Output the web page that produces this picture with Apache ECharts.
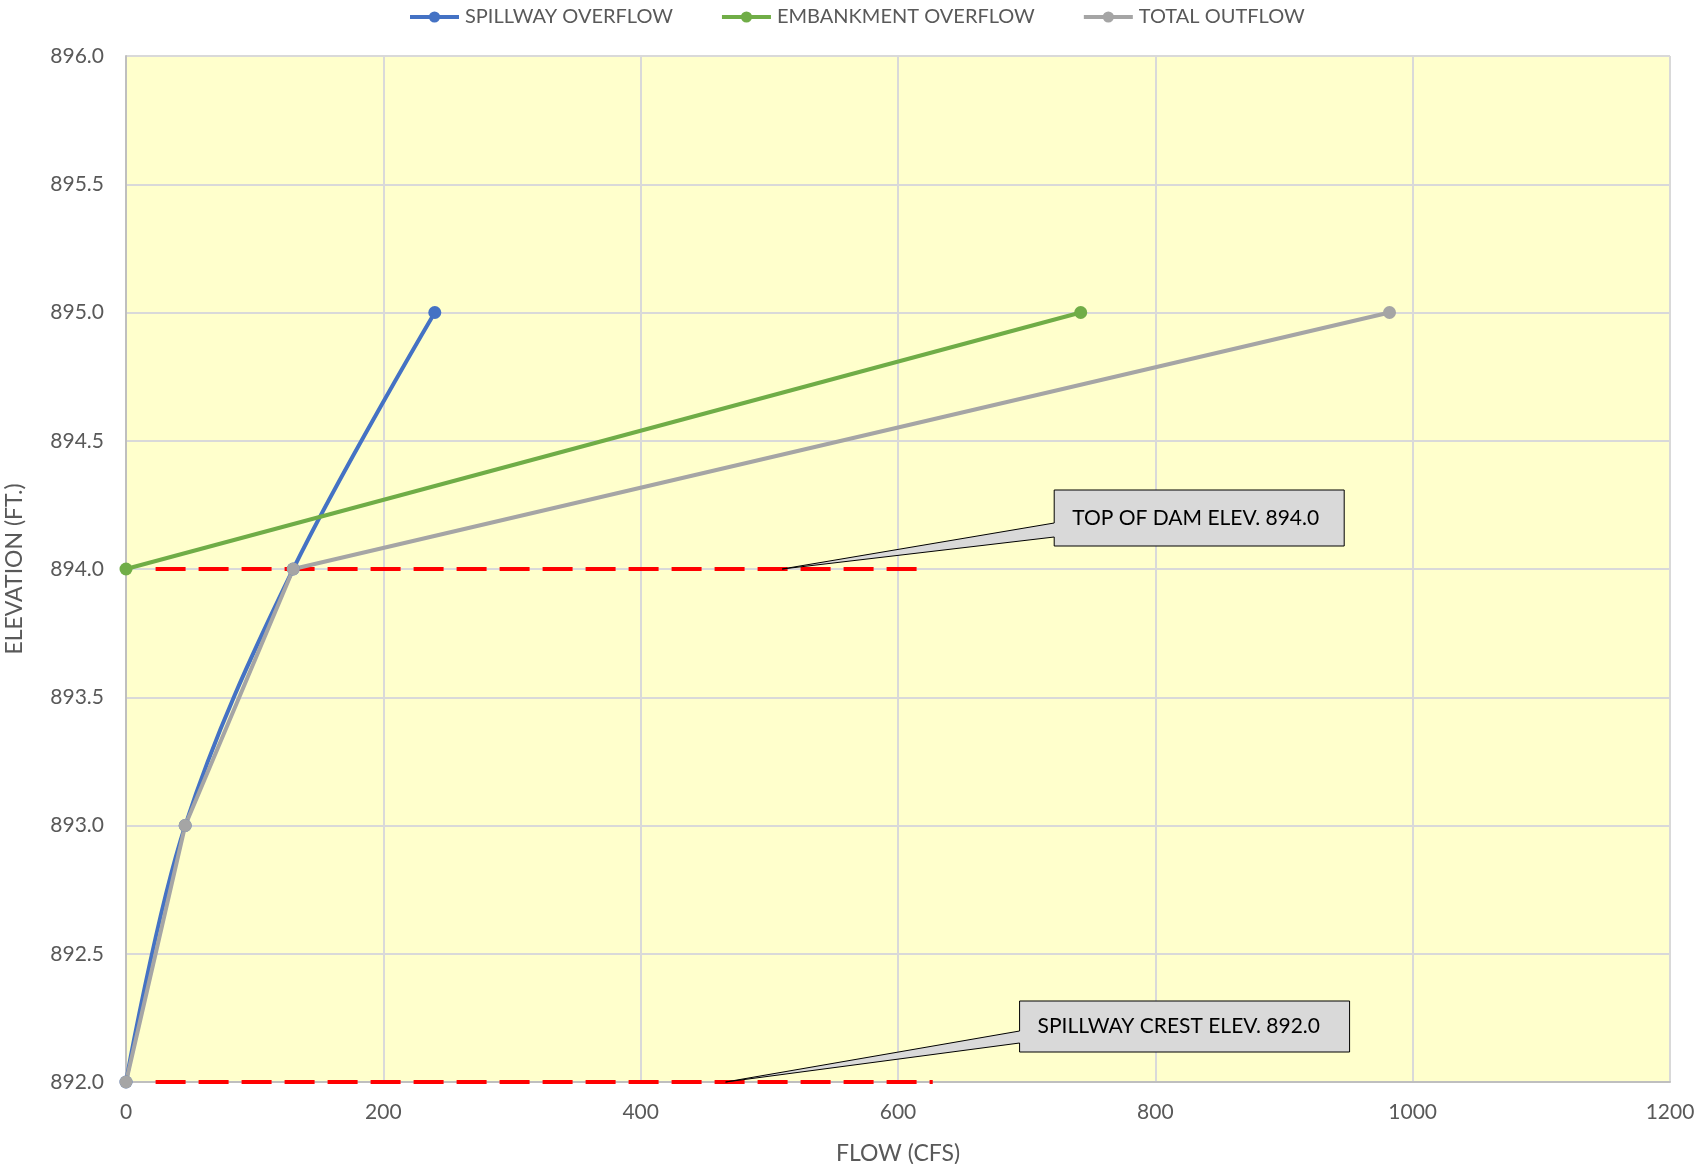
<!DOCTYPE html>
<html>
<head>
<meta charset="utf-8">
<title>Spillway and Embankment Rating Curve</title>
<script src="https://cdn.jsdelivr.net/npm/echarts@6/dist/echarts.min.js"></script>
<style>
  html, body { margin: 0; padding: 0; background: #ffffff; }
  #chart { width: 1694px; height: 1164px; }
</style>
</head>
<body>
<div id="chart"></div>
<script>
// Rating curve: flow (cfs) against water-surface elevation (ft)
const seriesNames = ['SPILLWAY OVERFLOW', 'EMBANKMENT OVERFLOW', 'TOTAL OUTFLOW'];

// [flow, elevation] pairs
const spillwayOverflow = [[0, 892.0], [46, 893.0], [130, 894.0], [240, 895.0]];
const embankmentOverflow = [[0, 894.0], [742, 895.0]];
const totalOutflow = [[0, 892.0], [46, 893.0], [130, 894.0], [982, 895.0]];

// Reference elevations drawn as dashed red lines
const topOfDamLine = [[23, 894.0], [624, 894.0]];
const spillwayCrestLine = [[23, 892.0], [627, 892.0]];

// Callout labels and the point each one points at
const calloutTexts = ['TOP OF DAM ELEV. 894.0', 'SPILLWAY CREST ELEV. 892.0'];
const calloutTargets = [[510, 894.0], [466, 892.0]];

const xTicks = { min: 0, max: 1200, interval: 200 };
const yTicks = { min: 892, max: 896, interval: 0.5 };

const FONT = 'Lato, "Liberation Sans", sans-serif';
const TEXT_GREY = '#595959';

const chart = echarts.init(document.getElementById('chart'), null, { renderer: 'canvas' });

function lineSeries(name, data, color, smooth) {
  return {
    name: name,
    type: 'line',
    data: data,
    smooth: smooth,
    symbol: 'circle',
    symbolSize: 13,
    showSymbol: true,
    lineStyle: { color: color, width: 4 },
    itemStyle: { color: color },
    emphasis: { disabled: true },
    z: 3
  };
}

function dashedRef(data) {
  return {
    type: 'line',
    data: data,
    symbol: 'none',
    silent: true,
    lineStyle: { color: '#FF0000', width: 4, type: [30, 13] },
    z: 2
  };
}

chart.setOption({
  animation: false,
  backgroundColor: '#ffffff',
  textStyle: { fontFamily: FONT },
  legend: {
    data: seriesNames,
    top: 2,
    left: 403,
    itemWidth: 49,
    itemHeight: 14,
    itemGap: 47,
    itemStyle: { borderWidth: 0 },
    lineStyle: { width: 4 },
    textStyle: { color: TEXT_GREY, fontSize: 20, fontFamily: FONT, padding: [0, 0, 0, 1] }
  },
  grid: {
    left: 126, right: 24, top: 56, bottom: 82,
    outerBoundsMode: 'none',
    show: true, backgroundColor: '#FFFFCC', borderWidth: 0
  },
  xAxis: {
    type: 'value',
    min: xTicks.min, max: xTicks.max, interval: xTicks.interval,
    name: 'FLOW (CFS)',
    nameLocation: 'middle',
    nameGap: 60,
    nameTextStyle: { color: TEXT_GREY, fontSize: 23, fontFamily: FONT },
    axisLine: { show: true, lineStyle: { color: '#bfbfbf', width: 2 } },
    axisTick: { show: false },
    axisLabel: {
      color: TEXT_GREY, fontSize: 21, margin: 20, fontFamily: FONT,
      formatter: function (v) { return String(v); }
    },
    splitLine: { show: true, lineStyle: { color: '#d9d9d9', width: 2 } }
  },
  yAxis: {
    type: 'value',
    min: yTicks.min, max: yTicks.max, interval: yTicks.interval,
    name: 'ELEVATION (FT.)',
    nameLocation: 'middle',
    nameGap: 100,
    nameRotate: 90,
    nameTextStyle: { color: TEXT_GREY, fontSize: 23, fontFamily: FONT },
    axisLine: { show: true, lineStyle: { color: '#bfbfbf', width: 2 } },
    axisTick: { show: false },
    axisLabel: {
      color: TEXT_GREY, fontSize: 21, margin: 22, fontFamily: FONT,
      formatter: function (v) { return v.toFixed(1); }
    },
    splitLine: { show: true, lineStyle: { color: '#d9d9d9', width: 2 } }
  },
  series: [
    dashedRef(topOfDamLine),
    dashedRef(spillwayCrestLine),
    lineSeries(seriesNames[0], spillwayOverflow, '#4472C4', 0.35),
    lineSeries(seriesNames[1], embankmentOverflow, '#70AD47', false),
    lineSeries(seriesNames[2], totalOutflow, '#A5A5A5', false)
  ]
});

// Callout boxes: offsets (px) of the box and pointer base from the target point
const calloutLayout = [
  { box: [272, -79, 562, -23], base: [-46, -32] },
  { box: [294, -81, 624, -30], base: [-51, -39] }
];

const graphics = [];
calloutTexts.forEach(function (txt, i) {
  const tip = chart.convertToPixel({ gridIndex: 0 }, calloutTargets[i]);
  const L = calloutLayout[i];
  const x1 = tip[0] + L.box[0], y1 = tip[1] + L.box[1];
  const x2 = tip[0] + L.box[2], y2 = tip[1] + L.box[3];
  const bTop = tip[1] + L.base[0], bBot = tip[1] + L.base[1];
  graphics.push({
    type: 'polygon',
    shape: {
      points: [[x1, y1], [x2, y1], [x2, y2], [x1, y2], [x1, bBot], [tip[0], tip[1]], [x1, bTop]]
    },
    style: { fill: '#D9D9D9', stroke: '#000000', lineWidth: 1 },
    z: 10
  });
  graphics.push({
    type: 'text',
    x: x1 + 18,
    y: (y1 + y2) / 2,
    style: {
      text: txt, fill: '#000000', font: '21px ' + FONT,
      textVerticalAlign: 'middle', verticalAlign: 'middle'
    },
    z: 11
  });
});
chart.setOption({ graphic: graphics });
</script>
</body>
</html>
